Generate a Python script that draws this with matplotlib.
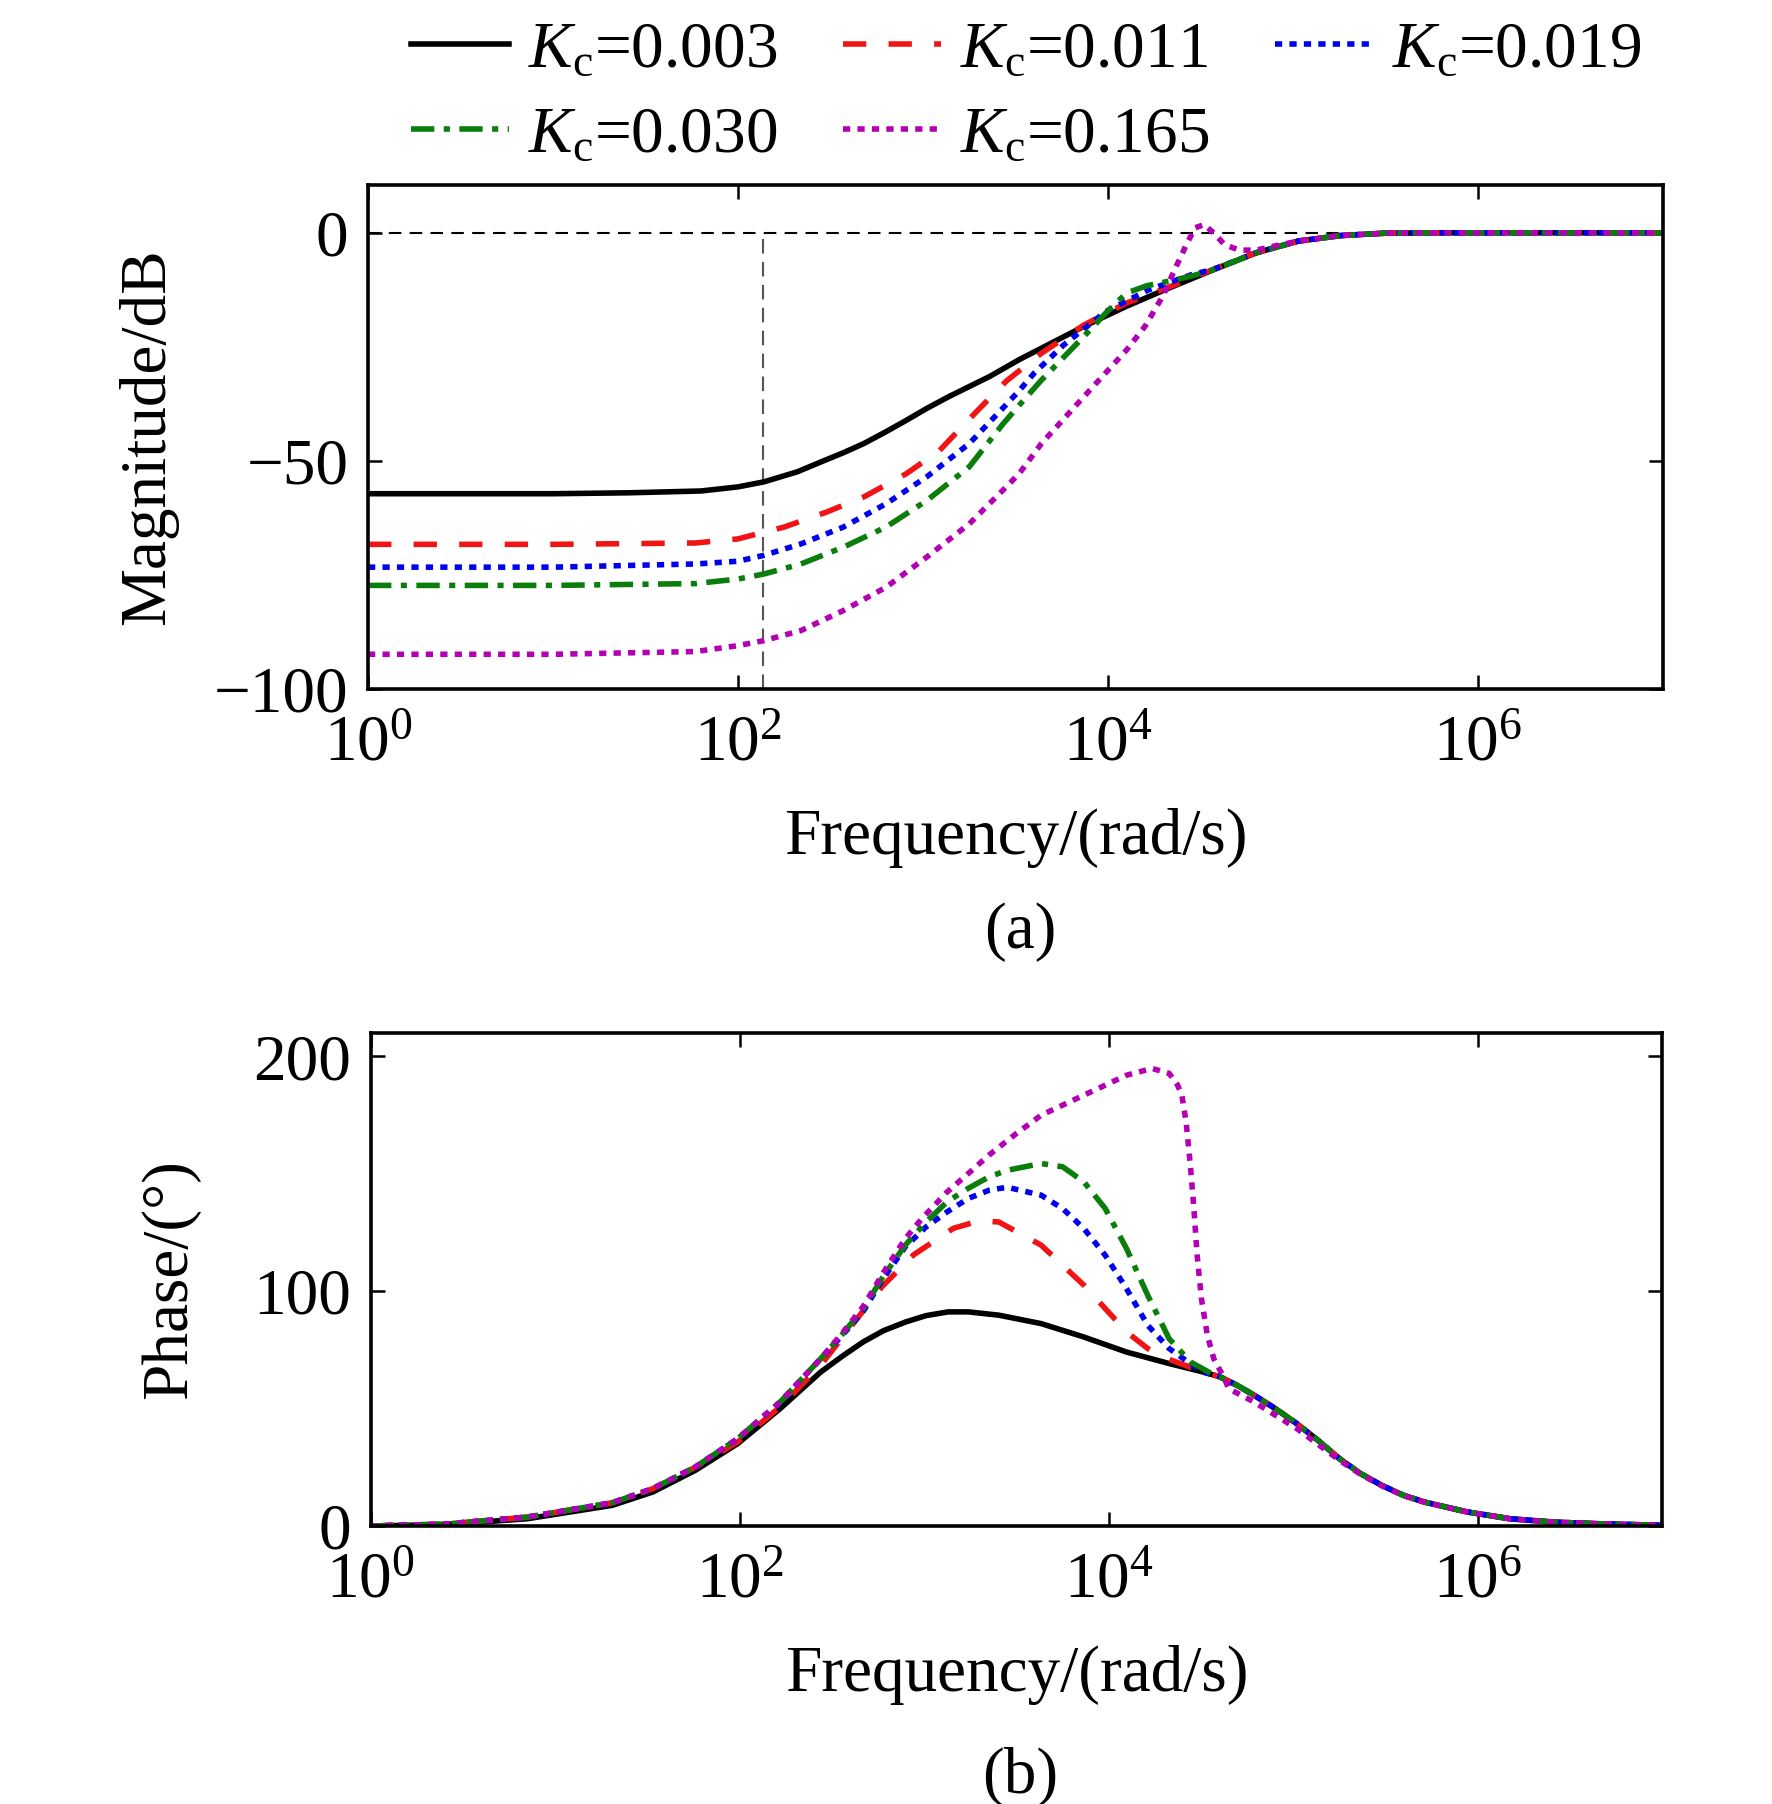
import numpy as np
import matplotlib
matplotlib.use('Agg')
import matplotlib.pyplot as plt

plt.rcParams['font.family'] = ['Liberation Serif', 'DejaVu Serif']
plt.rcParams['mathtext.fontset'] = 'custom'
plt.rcParams['mathtext.rm'] = 'Liberation Serif'
plt.rcParams['mathtext.it'] = 'Liberation Serif:italic'
plt.rcParams['font.size'] = 47

# gains in the legend
kc_labels = ['0.003', '0.011', '0.019', '0.030', '0.165']

# magnitude (dB), x = log10(frequency)
mag_lf_k003 = [0, 1.0, 1.41, 1.8, 2.0, 2.14, 2.23, 2.32, 2.45, 2.57, 2.68, 2.80, 2.91, 3.02, 3.14, 3.25, 3.36,
               3.52, 3.64, 3.87, 4.10, 4.33, 4.57, 4.80, 5.03, 5.26, 5.49, 5.8, 6.2, 7.0]
mag_db_k003 = [-57.2, -57.2, -57.0, -56.6, -55.7, -54.6, -53.5, -52.4, -50.2, -48.2, -46.2, -43.6, -41.1, -38.5,
               -35.9, -33.7, -31.5, -27.8, -25.3, -20.5, -16.1, -12.1, -8.1, -4.4, -1.8, -0.6, -0.1, 0, 0, 0]

mag_lf_k011 = [0, 1.0, 1.77, 2.0, 2.25, 2.48, 2.68, 2.91, 3.09, 3.27, 3.45, 3.64, 3.87, 4.10, 4.33,
               4.57, 4.80, 5.03, 5.26, 5.49, 5.8, 6.2, 7.0]
mag_db_k011 = [-68.3, -68.3, -68.0, -67.1, -64.5, -61.2, -57.9, -52.8, -47.7, -40.0, -32.5, -26.4, -20.2, -15.4, -11.9,
               -8.0, -4.4, -1.8, -0.6, -0.1, 0, 0, 0]

mag_lf_k019 = [0, 1.0, 1.77, 2.0, 2.14, 2.34, 2.57, 2.80, 3.02, 3.25, 3.43, 3.52, 3.60, 3.76, 3.99,
               4.22, 4.45, 4.57, 4.80, 5.03, 5.26, 5.49, 5.8, 6.2, 7.0]
mag_db_k019 = [-73.3, -73.3, -72.6, -72.0, -70.7, -68.2, -64.5, -59.4, -53.5, -46.2, -38.5, -34.6, -30.8, -24.6, -17.2,
               -12.5, -9.2, -8.0, -4.4, -1.8, -0.6, -0.1, 0, 0, 0]

mag_lf_k030 = [0, 1.0, 1.77, 2.0, 2.14, 2.34, 2.57, 2.80, 3.02, 3.25, 3.43, 3.52, 3.64, 3.87, 3.99,
               4.10, 4.21, 4.33, 4.45, 4.57, 4.80, 5.03, 5.26, 5.49, 5.8, 6.2, 7.0]
mag_db_k030 = [-77.3, -77.3, -76.9, -75.9, -74.8, -72.6, -68.9, -64.5, -58.7, -51.3, -42.0, -37.8, -32.3, -22.7, -17.5,
               -13.2, -11.6, -10.6, -9.5, -8.1, -4.4, -1.8, -0.6, -0.1, 0, 0, 0]

mag_lf_k165 = [0, 1.0, 1.77, 2.0, 2.14, 2.34, 2.57, 2.80, 3.02, 3.25, 3.43, 3.52, 3.64, 3.87, 4.10,
               4.20, 4.30, 4.36, 4.42, 4.47, 4.52, 4.57, 4.63, 4.71, 4.80, 4.90, 5.03, 5.26, 5.49, 5.8, 6.2, 7.0]
mag_db_k165 = [-92.4, -92.4, -91.8, -90.5, -89.4, -87.2, -82.8, -77.7, -71.1, -63.8, -56.5, -52.8, -46.2, -35.9, -25.7,
               -20.5, -13.6, -8.1, -2.9, 1.1, 1.8, 0.0, -2.6, -3.8, -3.8, -2.9, -1.8, -0.6, -0.1, 0, 0, 0]

# phase (deg), x = log10(frequency)
ph_lf_k003 = [0, 0.40, 0.85, 1.31, 1.53, 1.76, 1.99, 2.22, 2.44, 2.56, 2.67, 2.78, 2.90, 3.01, 3.13, 3.24, 3.405,
              3.635, 3.866, 4.097, 4.328, 4.512, 4.605, 4.697, 4.789, 4.904, 5.020, 5.135, 5.251, 5.366, 5.481,
              5.597, 5.712, 5.943, 6.174, 6.404, 6.635, 7.0]
ph_deg_k003 = [0, 0.6, 3.1, 8.8, 14.5, 23.7, 35.1, 50.0, 65.6, 72.5, 78.4, 83.2, 86.9, 89.6, 91.2, 91.2, 89.8,
               86.2, 80.5, 74.1, 69.2, 65.6, 63.5, 59.9, 55.7, 50.0, 43.6, 36.5, 28.7, 22.3, 17.3,
               13.1, 10.2, 6.0, 3.1, 1.7, 1.0, 0.3]

ph_lf_k011 = [0, 0.40, 0.85, 1.31, 1.53, 1.76, 1.99, 2.22, 2.44, 2.614, 2.773, 2.943, 3.159, 3.30, 3.405,
              3.635, 3.866, 3.982, 4.097, 4.212, 4.328, 4.512, 4.605, 4.697, 4.789, 4.904, 5.020, 5.135,
              5.251, 5.366, 5.481, 5.597, 5.712, 5.943, 6.174, 6.404, 6.635, 7.0]
ph_deg_k011 = [0, 0.8, 3.8, 9.9, 15.9, 25.0, 35.8, 50.7, 68.5, 86.0, 102.0, 115.5, 126.8, 130.0, 129.5,
               119.6, 102.6, 92.6, 82.7, 75.6, 71.0, 65.6, 63.5, 59.9, 55.7, 50.0, 43.6, 36.5,
               28.7, 22.3, 17.3, 13.1, 10.2, 6.0, 3.1, 1.7, 1.0, 0.3]

ph_lf_k019 = [0, 0.40, 0.85, 1.31, 1.53, 1.76, 1.99, 2.22, 2.44, 2.56, 2.67, 2.78, 2.898, 3.011, 3.125, 3.239,
              3.352, 3.45, 3.635, 3.751, 3.866, 3.982, 4.097, 4.212, 4.328, 4.443, 4.512, 4.605, 4.697, 4.789,
              4.904, 5.020, 5.135, 5.251, 5.366, 5.481, 5.597, 5.712, 5.943, 6.174, 6.404, 6.635, 7.0]
ph_deg_k019 = [0, 0.8, 3.8, 9.9, 15.9, 25.1, 37.2, 52.8, 71.3, 81.5, 91.5, 105.5, 118.9, 127.4, 133.8, 139.5,
               143.0, 144.3, 140.9, 135.2, 126.7, 115.3, 101.1, 85.5, 75.6, 69.2, 65.6, 63.5, 59.9, 55.7,
               50.0, 43.6, 36.5, 28.7, 22.3, 17.3, 13.1, 10.2, 6.0, 3.1, 1.7, 1.0, 0.3]

ph_lf_k030 = [0, 0.40, 0.85, 1.31, 1.53, 1.76, 1.99, 2.22, 2.44, 2.56, 2.67, 2.78, 2.898, 3.011, 3.125, 3.239,
              3.352, 3.45, 3.635, 3.751, 3.866, 3.982, 4.097, 4.212, 4.328, 4.443, 4.558, 4.605, 4.697, 4.789,
              4.904, 5.020, 5.135, 5.251, 5.366, 5.481, 5.597, 5.712, 5.943, 6.174, 6.404, 6.635, 7.0]
ph_deg_k030 = [0, 0.8, 3.8, 9.9, 15.9, 25.1, 37.2, 52.8, 71.3, 82.0, 92.5, 106.5, 119.6, 129.5, 138.1, 143.8,
               148.7, 151.5, 154.4, 153.0, 146.6, 135.2, 118.2, 98.3, 79.8, 69.9, 64.9, 63.5, 59.9, 55.7,
               50.0, 43.6, 36.5, 28.7, 22.3, 17.3, 13.1, 10.2, 6.0, 3.1, 1.7, 1.0, 0.3]

ph_lf_k165 = [0, 0.40, 0.85, 1.31, 1.53, 1.76, 1.99, 2.22, 2.44, 2.56, 2.67, 2.78, 2.898, 2.989, 3.125, 3.239,
              3.352, 3.489, 3.635, 3.866, 4.097, 4.235, 4.328, 4.374, 4.397, 4.420, 4.443, 4.461, 4.480,
              4.503, 4.535, 4.570, 4.628, 4.651, 4.789, 5.020, 5.251, 5.366, 5.481, 5.597, 5.712, 5.943,
              6.174, 6.404, 6.635, 7.0]
ph_deg_k165 = [0, 0.8, 3.8, 9.9, 15.9, 25.1, 37.2, 52.8, 71.3, 82.5, 93.5, 108.0, 122.4, 131.0, 142.3, 150.1,
               158.0, 166.5, 175.0, 183.5, 192.0, 194.9, 192.8, 187.8, 183.5, 172.2, 153.7, 136.6, 115.3,
               96.9, 81.3, 71.3, 62.8, 58.5, 52.8, 41.5, 28.0, 22.0, 17.1, 13.0, 10.1, 6.0,
               3.1, 1.7, 1.0, 0.3]

marker_freq = 136
mag_ylim = (-100, 10.5)
ph_ylim = (0, 210)

mag_lf = [mag_lf_k003, mag_lf_k011, mag_lf_k019, mag_lf_k030, mag_lf_k165]
mag_db = [mag_db_k003, mag_db_k011, mag_db_k019, mag_db_k030, mag_db_k165]
ph_lf = [ph_lf_k003, ph_lf_k011, ph_lf_k019, ph_lf_k030, ph_lf_k165]
ph_deg = [ph_deg_k003, ph_deg_k011, ph_deg_k019, ph_deg_k030, ph_deg_k165]

colors = ['black', '#f01414', '#0000f0', '#0a7d0a', '#b400b4']
dashes = [None, (4.2, 4.0), (1.3, 1.3), (4.2, 1.7, 1.1, 1.7), (1.3, 1.3)]
lw = 4.0

fig = plt.figure(figsize=(17.72, 18.04), dpi=100)
ax1 = fig.add_axes([0.2077, 0.6181, 0.7308, 0.2794])
ax2 = fig.add_axes([0.2091, 0.1541, 0.7289, 0.2733])

# reference lines
ax1.axhline(0, color='black', lw=1.5, dashes=(6, 4), zorder=1)
ax1.vlines(marker_freq, mag_ylim[0], 0, color='#555555', lw=1.5, linestyles=(0, (7, 4)), zorder=1)

handles = []
for i in range(5):
    kw = dict(color=colors[i], lw=lw, label='$K_\\mathrm{c}$=' + kc_labels[i])
    if dashes[i] is not None:
        kw['dashes'] = dashes[i]
    h, = ax1.plot(np.power(10.0, mag_lf[i]), mag_db[i], **kw)
    ax2.plot(np.power(10.0, ph_lf[i]), ph_deg[i], **kw)
    handles.append(h)

for ax in (ax1, ax2):
    ax.set_xscale('log')
    ax.set_xlim(1, 1e7)
    ax.set_xticks([1, 1e2, 1e4, 1e6])
    ax.minorticks_off()
    ax.tick_params(direction='in', length=10, width=1.8, top=True, right=True, pad=14)
    ax.tick_params(axis='x', pad=18)
    for s in ax.spines.values():
        s.set_linewidth(2.6)
    ax.set_xlabel('Frequency/(rad/s)', labelpad=25)

ax1.set_ylim(*mag_ylim)
ax1.set_yticks([-100, -50, 0])
ax1.set_ylabel('Magnitude/dB', labelpad=26)

ax2.set_ylim(*ph_ylim)
ax2.set_yticks([0, 100, 200])
ax2.set_ylabel('Phase/(°)', labelpad=38)

fig.text(0.576, 0.4834, '(a)', ha='center', va='center')
fig.text(0.576, 0.015, '(b)', ha='center', va='center')

# legend in row order: 3 on first row, 2 on second
order = [0, 3, 1, 4, 2]
fig.legend([handles[i] for i in order], [handles[i].get_label() for i in order],
           loc='upper left', bbox_to_anchor=(411 / 1772, 0.988), ncol=3, frameon=False,
           borderpad=0, borderaxespad=0, handlelength=1.5, handletextpad=0.3,
           columnspacing=1.0, labelspacing=0.38)

fig.savefig('out.png', dpi=100)
